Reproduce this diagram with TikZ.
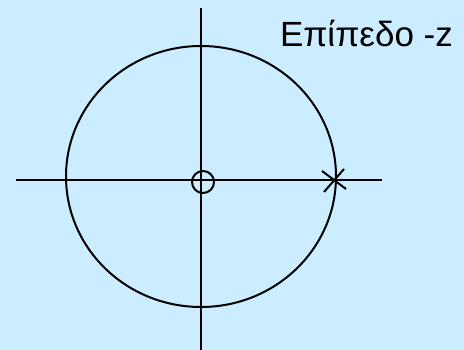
\documentclass[tikz,border=0pt]{standalone}
\usepackage{fontspec}
\setmainfont{Liberation Sans}
\definecolor{bgblue}{RGB}{204,236,255}
\begin{document}
\begin{tikzpicture}[x=1pt,y=-1pt,line width=2pt,
  axis/.style={draw=black},
  unit/.style={draw=black}]
\fill[bgblue] (0,0) rectangle (464,350);
\useasboundingbox (0,0) rectangle (464,350);
\coordinate (hl) at (16,180);
\coordinate (hr) at (382,180);
\coordinate (vt) at (201,8);
\coordinate (vb) at (201,350);
\draw[axis] (hl) -- (hr);
\draw[axis] (vt) -- (vb);
\draw[unit] (201,176.5) ellipse [x radius=135, y radius=130.5];
\node[draw,circle,minimum size=22pt,inner sep=0pt,line width=2pt] (zero) at (203,182) {};
\coordinate (p1) at (322,171);
\coordinate (p2) at (346,189);
\coordinate (p3) at (324,192);
\coordinate (p4) at (344,169);
\draw (p1) -- (p2);
\draw (p3) -- (p4);
\node[anchor=base west,inner sep=0pt,font=\fontsize{35}{40}\selectfont] (lbl) at (279,46.7) {Επίπεδο -z};
\end{tikzpicture}
\end{document}
